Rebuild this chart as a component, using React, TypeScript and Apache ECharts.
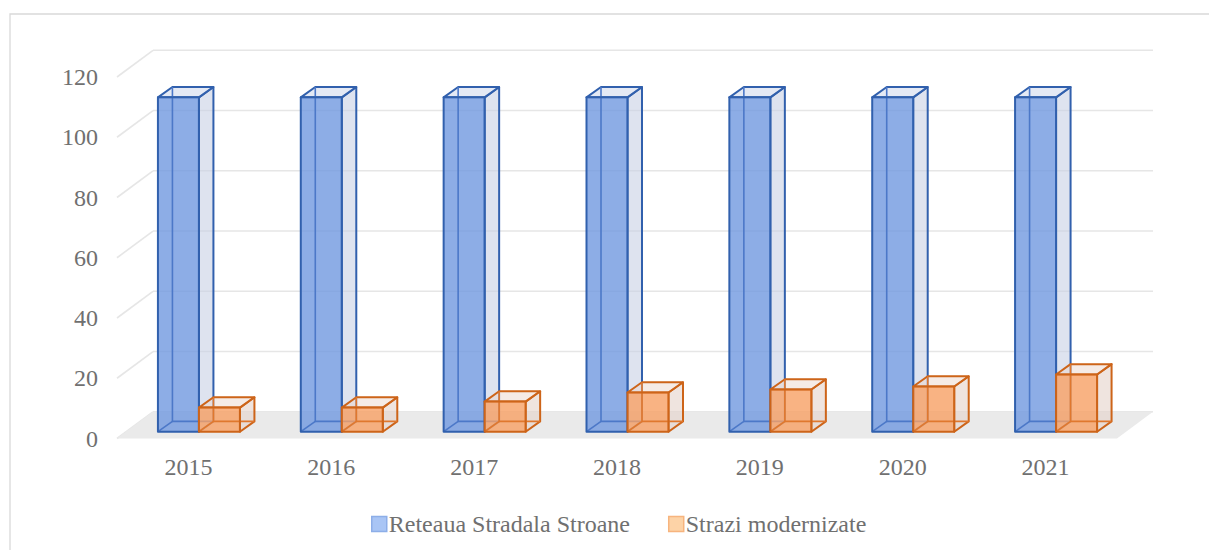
import React, { useEffect, useRef } from "react";
import * as echarts from "echarts";

const years = ["2015", "2016", "2017", "2018", "2019", "2020", "2021"];
const reteaua = [111, 111, 111, 111, 111, 111, 111];
const strazi = [8, 8, 10, 13, 14, 15, 19];
const yTicks = [0, 20, 40, 60, 80, 100, 120];
const seriesNames = ["Reteaua Stradala Stroane", "Strazi modernizate"];

const FONT = "'Liberation Serif', 'Times New Roman', serif";
const TEXT_COLOR = "#707070";

const WALL_DX = 36;
const WALL_DY = -26.7;
const BAR_FX = 10.5;
const BAR_FY = -6.8;
const BAR_DX = 14.5;
const BAR_DY = -10.3;
const BAR_RATIO = 0.287;

type BoxColors = {
  front: string;
  side: string;
  top: string;
  edge: string;
  hidden: string;
};

const blueColors: BoxColors = {
  front: "rgba(112,153,224,0.8)",
  side: "rgba(200,208,228,0.6)",
  top: "rgba(210,218,236,0.6)",
  edge: "#3160AD",
  hidden: "#4C78C8",
};
const orangeColors: BoxColors = {
  front: "rgba(247,160,100,0.8)",
  side: "rgba(228,210,202,0.6)",
  top: "rgba(235,215,205,0.5)",
  edge: "#CD6419",
  hidden: "#E0782E",
};

function boxRenderer(slot: number, c: BoxColors) {
  return (params: any, api: any) => {
    const i = api.value(0);
    const v = api.value(1);
    const base = api.coord([i, 0]);
    const top = api.coord([i, v]);
    const bw = api.size([1, 0])[0] * BAR_RATIO;
    const x0 = base[0] + slot * bw + BAR_FX;
    const x1 = x0 + bw;
    const yb = base[1] + BAR_FY;
    const yt = top[1] + BAR_FY;
    const dx = BAR_DX;
    const dy = BAR_DY;
    const edge = { stroke: c.edge, lineWidth: 2, lineJoin: "round" };
    return {
      type: "group",
      children: [
        {
          type: "polygon",
          shape: { points: [[x1, yb], [x1, yt], [x1 + dx, yt + dy], [x1 + dx, yb + dy]] },
          style: { fill: c.side, ...edge },
        },
        {
          type: "polygon",
          shape: { points: [[x0, yt], [x1, yt], [x1 + dx, yt + dy], [x0 + dx, yt + dy]] },
          style: { fill: c.top, ...edge },
        },
        {
          type: "rect",
          shape: { x: x0, y: yt, width: bw, height: yb - yt },
          style: { fill: c.front, stroke: null },
        },
        {
          type: "polyline",
          shape: { points: [[x0 + dx, yt + dy], [x0 + dx, yb + dy], [x1 + dx, yb + dy]] },
          style: { fill: null, stroke: c.hidden, lineWidth: 1.6 },
        },
        {
          type: "line",
          shape: { x1: x0, y1: yb, x2: x0 + dx, y2: yb + dy },
          style: { stroke: c.hidden, lineWidth: 1.6 },
        },
        {
          type: "rect",
          shape: { x: x0, y: yt, width: bw, height: yb - yt },
          style: { fill: null, ...edge },
        },
      ],
    };
  };
}

export default function App() {
  const ref = useRef<HTMLDivElement>(null);
  useEffect(() => {
    if (!ref.current) return;
    const chart = echarts.init(ref.current, undefined, { renderer: "svg" });
    const option: any = {
      animation: false,
      backgroundColor: "#ffffff",
      textStyle: { fontFamily: FONT },
      graphic: [
        {
          type: "rect",
          shape: { x: 10, y: 14, width: 1400, height: 800 },
          style: { fill: "none", stroke: "#D9D9D9", lineWidth: 1.3 },
          silent: true,
          z: -10,
        },
      ],
      grid: { left: 117, right: 92, top: 77, bottom: 111.5, containLabel: false },
      legend: {
        left: 366,
        top: 507,
        itemWidth: 15,
        itemHeight: 15,
        itemGap: 38,
        selectedMode: false,
        icon: "rect",
        textStyle: {
          fontFamily: FONT,
          fontSize: 24,
          color: TEXT_COLOR,
          padding: [0, 0, 0, -3],
        },
        data: [
          {
            name: seriesNames[0],
            itemStyle: { color: "#A9C5F5", borderColor: "#8DAEE8", borderWidth: 1.5 },
          },
          {
            name: seriesNames[1],
            itemStyle: { color: "#FDD3A7", borderColor: "#F7B47E", borderWidth: 1.5 },
          },
        ],
      },
      xAxis: {
        type: "category",
        data: years,
        axisLine: { show: false },
        axisTick: { show: false },
        splitLine: { show: false },
        axisLabel: { fontFamily: FONT, fontSize: 24, color: TEXT_COLOR, margin: 16 },
      },
      yAxis: {
        type: "value",
        min: 0,
        max: 120,
        interval: 20,
        axisLine: { show: false },
        axisTick: { show: false },
        splitLine: { show: false },
        axisLabel: { fontFamily: FONT, fontSize: 24, color: TEXT_COLOR, margin: 19 },
      },
      series: [
        {
          name: "wall",
          type: "custom",
          silent: true,
          clip: false,
          z: 1,
          data: yTicks.map((t) => [0, t]),
          renderItem: (params: any, api: any) => {
            const v = api.value(1);
            const p = api.coord([0, v]);
            const left = params.coordSys.x;
            const right = left + params.coordSys.width;
            const y = p[1];
            const st = { stroke: "#E6E6E6", lineWidth: 1.6 };
            return {
              type: "group",
              children: [
                {
                  type: "line",
                  shape: { x1: left, y1: y, x2: left + WALL_DX, y2: y + WALL_DY },
                  style: st,
                },
                {
                  type: "line",
                  shape: { x1: left + WALL_DX, y1: y + WALL_DY, x2: right + WALL_DX, y2: y + WALL_DY },
                  style: st,
                },
              ],
            };
          },
        },
        {
          name: "floor",
          type: "custom",
          silent: true,
          clip: false,
          z: 2,
          data: [[0, 0]],
          renderItem: (params: any, api: any) => {
            const p = api.coord([0, api.value(1)]);
            const left = params.coordSys.x;
            const right = left + params.coordSys.width;
            const y = p[1];
            return {
              type: "polygon",
              shape: {
                points: [
                  [left, y],
                  [right, y],
                  [right + WALL_DX, y + WALL_DY],
                  [left + WALL_DX, y + WALL_DY],
                ],
              },
              style: { fill: "#EAEAEA", stroke: null },
            };
          },
        },
        {
          name: seriesNames[0],
          type: "custom",
          clip: false,
          z: 3,
          itemStyle: { color: "#A9C5F5" },
          data: reteaua.map((v, i) => [i, v]),
          renderItem: boxRenderer(-1, blueColors),
        },
        {
          name: seriesNames[1],
          type: "custom",
          clip: false,
          z: 4,
          itemStyle: { color: "#FDD3A7" },
          data: strazi.map((v, i) => [i, v]),
          renderItem: boxRenderer(0, orangeColors),
        },
      ],
    };
    chart.setOption(option);
    return () => chart.dispose();
  }, []);
  return (
    <div
      ref={ref}
      style={{ position: "absolute", left: 0, top: 0, width: 1209, height: 550 }}
    />
  );
}
